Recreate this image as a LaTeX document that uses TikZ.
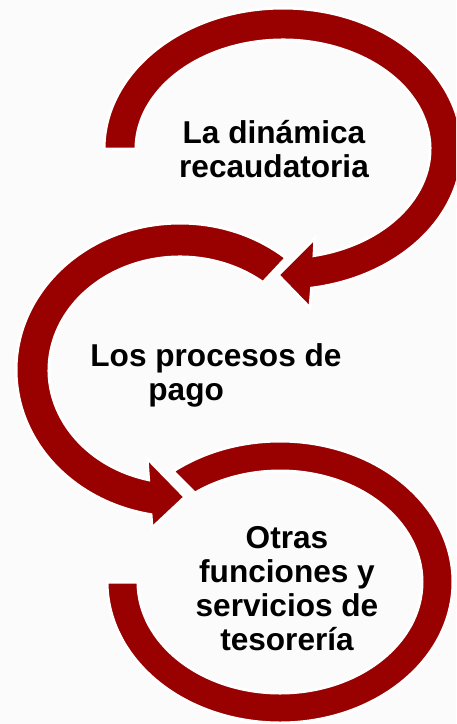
\documentclass[tikz,border=0pt]{standalone}
\usepackage{fontspec}
\setmainfont{Liberation Sans}
\definecolor{ringred}{RGB}{153,0,0}
\definecolor{bgcol}{RGB}{251,251,251}
\begin{document}
\begin{tikzpicture}[x=1pt,y=1pt,
  ring/.style={fill=ringred, draw=white, line width=3pt, line join=miter},
  lbl/.style={font=\bfseries\fontsize{31.6}{34}\selectfont, align=center, inner sep=0pt, text=black}]
\fill[bgcol] (0,0) rectangle (456,-724);
\useasboundingbox (0,0) rectangle (456,-724);
\clip (0,0) rectangle (456,-724);
% ring 3 (no head)
\draw[ring] ([shift={(280,-582)}]128.2:173 and 141)
  arc[start angle=128.2, end angle=-180, x radius=173, y radius=141]
  -- ([shift={(280,-582)}]180:142 and 111)
  arc[start angle=-180, end angle=126.8, x radius=142, y radius=111] -- cycle;
% ring 2
\draw[ring] ([shift={(180,-370)}]49.7:164 and 147)
  arc[start angle=49.7, end angle=259.8, x radius=164, y radius=147]
  -- (152,-528) -- (185,-497) -- (147,-458)
  -- ([shift={(180,-370)}]256.1:131 and 113)
  arc[start angle=256.1, end angle=50.7, x radius=131, y radius=113] -- cycle;
% ring 1
\draw[ring] ([shift={(283,-149)}]180:179 and 141)
  arc[start angle=180, end angle=-80.8, x radius=179, y radius=141]
  -- (310,-308) -- (278,-275) -- (315,-238)
  -- ([shift={(283,-149)}]-77.8:147 and 109)
  arc[start angle=-77.8, end angle=180, x radius=147, y radius=109] -- cycle;
\node[lbl, anchor=base] (t1) at (274,-177) {La dinámica\\recaudatoria};
\node[lbl, anchor=base, align=left] (t2) at (216,-400) {Los procesos de\\\hspace*{58pt}pago};
\node[lbl, anchor=base] (t3) at (287,-650) {Otras\\funciones y\\servicios de\\tesorería};
\end{tikzpicture}
\end{document}
